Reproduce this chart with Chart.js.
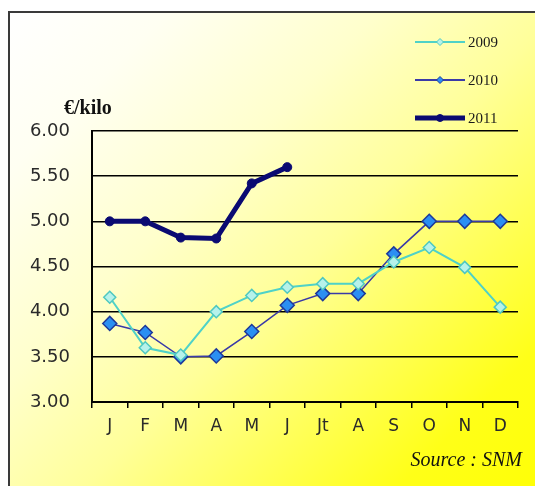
<!DOCTYPE html>
<html>
<head>
<meta charset="utf-8">
<script src="https://cdn.jsdelivr.net/npm/chart.js@4/dist/chart.umd.min.js"></script>
<style>
  html, body { margin: 0; padding: 0; background: #ffffff; }
  #wrap { position: relative; width: 535px; height: 486px; overflow: hidden; }
  #frame {
    position: absolute; left: 8px; top: 11px; width: 560px; height: 500px;
    border: 2px solid #3a3a3a; box-sizing: border-box;
    background: linear-gradient(135deg, #ffffff 0%, #fffff2 15%, #ffffcc 35%, #ffff9a 52%, #ffff55 68%, #ffff18 82%, #ffff00 100%);
  }
  canvas { position: absolute; left: 0; top: 0; }
</style>
</head>
<body>
<div id="wrap">
  <div id="frame"></div>
  <canvas id="c" width="535" height="486"></canvas>
</div>
<script>
// Monthly price per kilo
const months = ['J', 'F', 'M', 'A', 'M', 'J', 'Jt', 'A', 'S', 'O', 'N', 'D'];
const prices2009 = [4.16, 3.60, 3.52, 4.00, 4.18, 4.27, 4.31, 4.31, 4.55, 4.71, 4.49, 4.05];
const prices2010 = [3.87, 3.77, 3.50, 3.51, 3.78, 4.07, 4.20, 4.20, 4.64, 5.00, 5.00, 5.00];
const prices2011 = [5.00, 5.00, 4.82, 4.81, 5.42, 5.60];
const yTicks = [3.00, 3.50, 4.00, 4.50, 5.00, 5.50, 6.00];

const series = [
  { label: '2009', data: prices2009, borderColor: '#4fd2c8', borderWidth: 2,
    pointStyle: 'rectRot', pointRadius: 6, pointBackgroundColor: '#b6f2ea', pointBorderColor: '#4fc8c0', pointBorderWidth: 1.5 },
  { label: '2010', data: prices2010, borderColor: '#3a3aa8', borderWidth: 1.5,
    pointStyle: 'rectRot', pointRadius: 7, pointBackgroundColor: '#2b8ff2', pointBorderColor: '#1e3a9a', pointBorderWidth: 1.5 },
  { label: '2011', data: prices2011, borderColor: '#0a0a72', borderWidth: 5,
    pointStyle: 'circle', pointRadius: 4.5, pointBackgroundColor: '#0a0a72', pointBorderColor: '#0a0a72', pointBorderWidth: 1 }
];

// Legend, unit label and source note
const annotations = {
  id: 'annotations',
  afterDraw(chart) {
    const ctx = chart.ctx;
    ctx.save();
    const rows = [42, 80, 118];
    chart.data.datasets.forEach((ds, i) => {
      const y = rows[i];
      ctx.strokeStyle = ds.borderColor;
      ctx.lineWidth = Math.max(2, ds.borderWidth);
      ctx.beginPath(); ctx.moveTo(415, y); ctx.lineTo(465, y); ctx.stroke();
      ctx.fillStyle = ds.pointBackgroundColor;
      ctx.strokeStyle = ds.pointBorderColor;
      ctx.lineWidth = 1;
      const r = 3.5;
      ctx.beginPath();
      if (ds.pointStyle === 'circle') {
        ctx.arc(440, y, r, 0, Math.PI * 2);
      } else {
        ctx.moveTo(440, y - r); ctx.lineTo(440 + r, y); ctx.lineTo(440, y + r); ctx.lineTo(440 - r, y); ctx.closePath();
      }
      ctx.fill(); ctx.stroke();
      ctx.fillStyle = '#1a1a1a';
      ctx.font = '15px "Liberation Serif", serif';
      ctx.textBaseline = 'middle';
      ctx.textAlign = 'left';
      ctx.fillText(ds.label, 468, y + 1);
    });
    ctx.fillStyle = '#111';
    ctx.font = 'bold 20px "Liberation Serif", serif';
    ctx.textBaseline = 'alphabetic';
    ctx.fillText('€/kilo', 64, 114);
    ctx.font = 'italic 20px "Liberation Serif", serif';
    ctx.textAlign = 'right';
    ctx.fillText('Source : SNM', 522, 466);
    ctx.restore();
  }
};

new Chart(document.getElementById('c'), {
  type: 'line',
  data: {
    labels: months,
    datasets: series.map(s => Object.assign({ fill: false, tension: 0 }, s))
  },
  options: {
    responsive: false,
    animation: false,
    layout: { padding: { top: 131, right: 17, left: 0, bottom: 0 } },
    plugins: { legend: { display: false }, tooltip: { enabled: false } },
    scales: {
      x: {
        offset: true,
        grid: { offset: true, drawOnChartArea: false, drawTicks: true, tickLength: 6, color: '#000', lineWidth: 1.5 },
        border: { color: '#000', width: 2 },
        ticks: { color: '#2a2a2a', font: { family: 'DejaVu Sans', size: 17 }, padding: 8, maxRotation: 0, autoSkip: false },
        afterFit(scale) { scale.height = 84; }
      },
      y: {
        min: 3, max: 6,
        afterBuildTicks(scale) { scale.ticks = yTicks.map(v => ({ value: v })); },
        grid: { drawTicks: false, color: '#000', lineWidth: 1.6 },
        border: { color: '#000', width: 2 },
        ticks: { color: '#2a2a2a', font: { family: 'DejaVu Sans', size: 18 }, padding: 22,
                 callback: v => Number(v).toFixed(2) },
        afterFit(scale) { scale.width = 92; }
      }
    }
  },
  plugins: [annotations]
});
</script>
</body>
</html>
